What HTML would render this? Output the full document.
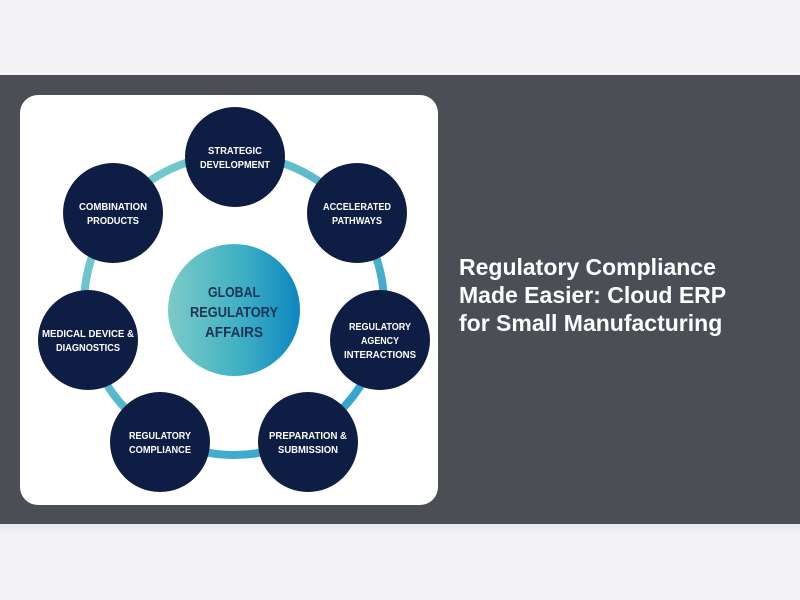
<!DOCTYPE html>
<html><head><meta charset="utf-8"><style>
html,body{margin:0;padding:0;width:800px;height:600px;overflow:hidden;background:#f4f4f6;font-family:"Liberation Sans",sans-serif}
.band{position:absolute;left:0;top:75px;width:800px;height:449px;background:#4b4f55}
.card{position:absolute;left:20px;top:95px;width:418px;height:410px;background:#fff;border-radius:18px;overflow:hidden}
.title{position:absolute;left:459px;top:253px;color:#fff;font-weight:bold;font-size:23px;line-height:28px;width:290px}
.shadow{position:absolute;left:0;top:524px;width:800px;height:12px;background:linear-gradient(#e6e7ea,#f4f4f6)}
</style></head><body>
<div class="band"></div><div class="shadow"></div>
<div class="card">
<svg width="418" height="410" viewBox="20 95 418 410" xmlns="http://www.w3.org/2000/svg">
<defs>
<linearGradient id="g" x1="0" x2="1" y1="0" y2="0"><stop offset="0" stop-color="#7ccbc6"/><stop offset="0.55" stop-color="#3fb0c4"/><stop offset="1" stop-color="#0d86c0"/></linearGradient>
<linearGradient id="r" x1="0" x2="1" y1="0" y2="1"><stop offset="0" stop-color="#7fcfcb"/><stop offset="1" stop-color="#2a9fd0"/></linearGradient>
</defs>
<circle cx="234" cy="305" r="150" fill="none" stroke="url(#r)" stroke-width="8"/>
<circle cx="234" cy="310" r="66" fill="url(#g)"/>
<g font-family="Liberation Sans,sans-serif" font-weight="bold" fill="#1c3358" font-size="15" text-anchor="middle">
<text x="234" y="297" textLength="52" lengthAdjust="spacingAndGlyphs">GLOBAL</text><text x="234" y="317" textLength="88" lengthAdjust="spacingAndGlyphs">REGULATORY</text><text x="234" y="337" textLength="58" lengthAdjust="spacingAndGlyphs">AFFAIRS</text></g>
<g fill="#0e1d44">
<circle cx="235" cy="157" r="50"/><circle cx="357" cy="213" r="50"/><circle cx="380" cy="340" r="50"/>
<circle cx="308" cy="442" r="50"/><circle cx="160" cy="442" r="50"/><circle cx="88" cy="340" r="50"/><circle cx="113" cy="213" r="50"/></g>
<g font-family="Liberation Sans,sans-serif" font-weight="bold" fill="#fff" font-size="10" text-anchor="middle" transform="translate(0,0)">
<text x="235" y="154" textLength="54" lengthAdjust="spacingAndGlyphs">STRATEGIC</text><text x="235" y="168" textLength="70" lengthAdjust="spacingAndGlyphs">DEVELOPMENT</text>
<text x="357" y="210" textLength="68" lengthAdjust="spacingAndGlyphs">ACCELERATED</text><text x="357" y="224" textLength="50" lengthAdjust="spacingAndGlyphs">PATHWAYS</text>
<text x="380" y="330" textLength="62" lengthAdjust="spacingAndGlyphs">REGULATORY</text><text x="380" y="344" textLength="38" lengthAdjust="spacingAndGlyphs">AGENCY</text><text x="380" y="358" textLength="72" lengthAdjust="spacingAndGlyphs">INTERACTIONS</text>
<text x="308" y="439" textLength="78" lengthAdjust="spacingAndGlyphs">PREPARATION &amp;</text><text x="308" y="453" textLength="60" lengthAdjust="spacingAndGlyphs">SUBMISSION</text>
<text x="160" y="439" textLength="62" lengthAdjust="spacingAndGlyphs">REGULATORY</text><text x="160" y="453" textLength="62" lengthAdjust="spacingAndGlyphs">COMPLIANCE</text>
<text x="88" y="337" textLength="92" lengthAdjust="spacingAndGlyphs">MEDICAL DEVICE &amp;</text><text x="88" y="351" textLength="64" lengthAdjust="spacingAndGlyphs">DIAGNOSTICS</text>
<text x="113" y="210" textLength="68" lengthAdjust="spacingAndGlyphs">COMBINATION</text><text x="113" y="224" textLength="52" lengthAdjust="spacingAndGlyphs">PRODUCTS</text>
</g>
</svg></div>
<div class="title">Regulatory Compliance Made Easier: Cloud ERP for Small Manufacturing</div>
</body></html>
